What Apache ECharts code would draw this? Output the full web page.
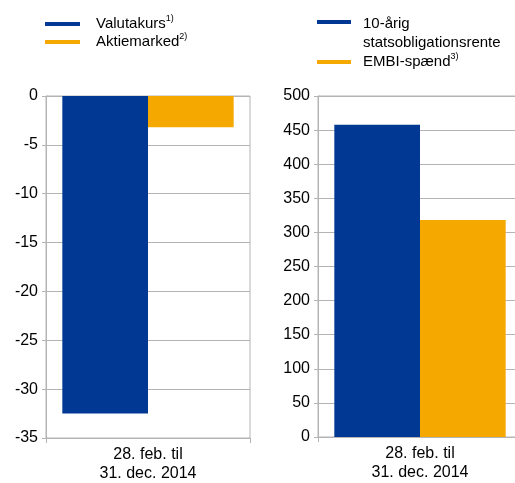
<!DOCTYPE html>
<html>
<head>
<meta charset="utf-8">
<script src="https://cdn.jsdelivr.net/npm/echarts@6/dist/echarts.min.js"></script>
<style>
  html, body { margin: 0; padding: 0; background: #fff; }
  #chart { width: 515px; height: 483px; }
</style>
</head>
<body>
<div id="chart"></div>
<script>
// data
const categories = ['28. feb. til\n31. dec. 2014'];
const leftNames = ['Valutakurs', 'Aktiemarked'];
const leftNotes = ['1)', '2)'];
const leftValues = [-32.5, -3.2];
const rightNames = ['10-årig statsobligationsrente', 'EMBI-spænd'];
const rightNotes = ['', '3)'];
const rightValues = [458, 318];
const leftTicks = { min: -35, max: 0, interval: 5 };
const rightTicks = { min: 0, max: 500, interval: 50 };

const blue = '#003893';
const orange = '#f5a800';
const gridGray = '#b4b4b4';
const font = '"Liberation Sans", Arial, sans-serif';

const notes = {};
leftNames.forEach((n, i) => notes[n] = leftNotes[i]);
rightNames.forEach((n, i) => notes[n] = rightNotes[i]);

function legendLabel(name) {
    const text = name === rightNames[0] ? '10-årig\nstatsobligationsrente' : name;
    const note = notes[name];
    return '{a|' + text.replace('\n', '}\n{a|') + '}' + (note ? '{s|' + note + '}' : '');
}

const rich = {
    a: { fontFamily: font, fontSize: 15, lineHeight: 19, color: '#000' },
    s: { fontFamily: font, fontSize: 9, lineHeight: 11, verticalAlign: 'top', color: '#000' }
};

function yAxis(gridIndex, t) {
    return {
        type: 'value', gridIndex: gridIndex,
        min: t.min, max: t.max, interval: t.interval,
        axisLine: { show: true, lineStyle: { color: gridGray } },
        axisTick: { show: true, length: 4, lineStyle: { color: gridGray } },
        axisLabel: { fontFamily: font, fontSize: 16, color: '#000', margin: 8 },
        splitLine: { lineStyle: { color: gridGray } }
    };
}

function xAxis(gridIndex) {
    return {
        type: 'category', gridIndex: gridIndex, data: categories, position: 'bottom',
        axisLine: { onZero: false, lineStyle: { color: gridGray } },
        axisTick: { show: true, length: 5, lineStyle: { color: gridGray } },
        axisLabel: { fontFamily: font, fontSize: 16, color: '#000', lineHeight: 19, margin: 7 }
    };
}

function bar(name, value, axisIndex, color) {
    return {
        name: name, type: 'bar', xAxisIndex: axisIndex, yAxisIndex: axisIndex,
        data: [value], barGap: 0, barCategoryGap: '16%',
        itemStyle: { color: color }
    };
}

const chart = echarts.init(document.getElementById('chart'));
chart.setOption({
    animation: false,
    backgroundColor: '#fff',
    grid: [
        { left: 46, top: 96, width: 204, height: 342, show: true, borderColor: gridGray, borderWidth: 1, outerBoundsMode: 'none' },
        { left: 318, top: 96, width: 204, height: 341, show: true, borderColor: gridGray, borderWidth: 1, outerBoundsMode: 'none' }
    ],
    legend: [
        {
            data: leftNames, left: 45, top: 14.5, orient: 'vertical', padding: 0, itemGap: 1,
            icon: 'rect', itemWidth: 35, itemHeight: 4,
            formatter: legendLabel,
            textStyle: { rich: rich, padding: [0, 0, 0, 11] }
        },
        {
            data: [
                { name: rightNames[0], textStyle: { padding: [23, 0, 0, 7] } },
                { name: rightNames[1] }
            ],
            left: 317, top: 16.5, orient: 'vertical', padding: 0, itemGap: 2,
            icon: 'rect', itemWidth: 34, itemHeight: 4,
            formatter: legendLabel,
            textStyle: { rich: rich, padding: [0, 0, 0, 7] }
        }
    ],
    xAxis: [xAxis(0), xAxis(1)],
    yAxis: [yAxis(0, leftTicks), yAxis(1, rightTicks)],
    series: [
        bar(leftNames[0], leftValues[0], 0, blue),
        bar(leftNames[1], leftValues[1], 0, orange),
        bar(rightNames[0], rightValues[0], 1, blue),
        bar(rightNames[1], rightValues[1], 1, orange)
    ]
});
</script>
</body>
</html>
